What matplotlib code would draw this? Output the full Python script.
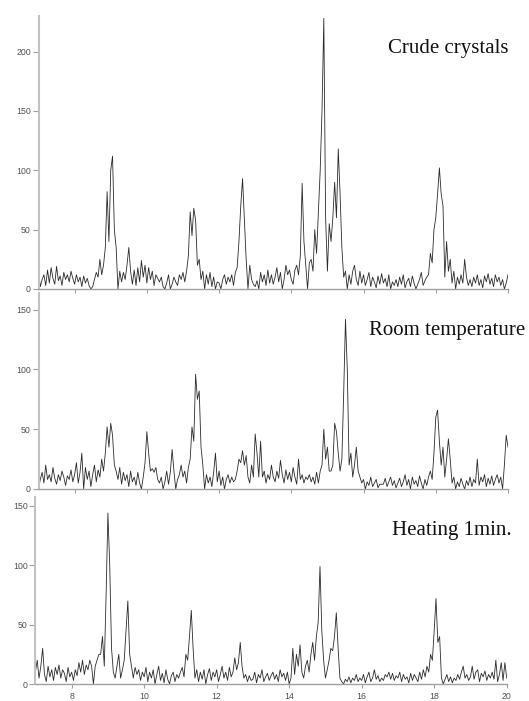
import numpy as np
import matplotlib
matplotlib.use("Agg")
import matplotlib.pyplot as plt

# 2-theta grid, 7.00 ... 20.00 step 0.05 (one row of values per degree)
two_theta = np.round(np.arange(7.0, 20.001, 0.05), 2)

crude = [
    15, 2, 8, 12, 3, 16, 5, 18, 9, 4, 19, 7, 11, 3, 14, 8, 12, 6, 15, 9,
    4, 12, 6, 10, 2, 11, 5, 9, 3, 0, 2, 8, 14, 10, 25, 12, 20, 35, 82, 40,
    100, 112, 50, 35, 0, 15, 6, 14, 8, 20, 35, 15, 4, 16, 3, 18, 6, 24, 10, 20,
    5, 18, 8, 15, 3, 12, 9, 6, 10, 2, 0, 5, 12, 0, 4, 10, 6, 3, 12, 8,
    14, 6, 15, 28, 65, 45, 68, 58, 20, 25, 8, 15, 0, 12, 4, 14, 2, 10, 0, 6,
    5, 0, 8, 12, 4, 10, 6, 12, 3, 14, 18, 40, 70, 93, 60, 25, 0, 20, 8, 4,
    2, 7, 0, 14, 6, 12, 3, 16, 5, 12, 4, 10, 18, 6, 14, 0, 8, 20, 12, 16,
    8, 4, 16, 20, 12, 28, 89, 40, 20, 0, 22, 25, 15, 50, 30, 65, 100, 150, 228, 60,
    15, 55, 40, 60, 90, 60, 118, 80, 35, 10, 15, 0, 12, 4, 15, 20, 8, 3, 15, 5,
    12, 3, 8, 14, 2, 10, 6, 1, 11, 4, 13, 5, 9, 2, 12, 0, 6, 3, 8, 2,
    10, 4, 12, 1, 6, 9, 2, 11, 5, 0, 4, 8, 14, 3, 7, 10, 12, 30, 22, 50,
    60, 80, 102, 80, 70, 10, 40, 15, 25, 5, 15, 0, 10, 4, 12, 5, 25, 10, 3, 8,
    2, 10, 5, 12, 3, 8, 1, 11, 6, 13, 4, 9, 2, 12, 6, 10, 3, 8, 0, 5,
    12,
]

room = [
    0, 8, 14, 5, 20, 8, 12, 6, 18, 9, 4, 12, 7, 15, 10, 3, 11, 8, 16, 6,
    12, 22, 5, 14, 30, 0, 18, 8, 15, 2, 12, 20, 6, 16, 10, 25, 15, 30, 52, 35,
    55, 45, 20, 15, 8, 18, 4, 14, 7, 12, 2, 15, 6, 10, 3, 14, 5, 0, 10, 22,
    48, 30, 15, 17, 14, 18, 8, 5, 10, 0, 6, 15, 4, 14, 33, 15, 0, 8, 12, 20,
    10, 15, 5, 18, 25, 52, 40, 96, 75, 82, 35, 20, 0, 12, 5, 10, 2, 14, 30, 6,
    15, 3, 10, 0, 8, 12, 5, 10, 6, 8, 15, 25, 22, 32, 20, 28, 10, 5, 20, 10,
    46, 30, 10, 40, 10, 15, 5, 12, 8, 20, 10, 6, 15, 9, 24, 12, 5, 16, 8, 14,
    6, 18, 10, 4, 25, 8, 12, 5, 10, 8, 12, 6, 10, 4, 14, 5, 15, 20, 50, 25,
    35, 15, 15, 20, 55, 48, 30, 15, 25, 80, 142, 100, 20, 30, 10, 20, 35, 15, 10, 5,
    8, 0, 6, 3, 10, 2, 5, 8, 1, 4, 4, 4, 9, 2, 6, 10, 3, 7, 1, 5,
    9, 2, 6, 12, 3, 8, 0, 10, 4, 7, 2, 11, 5, 0, 8, 3, 10, 15, 8, 30,
    60, 66, 40, 20, 35, 10, 25, 42, 25, 5, 10, 0, 6, 2, 9, 4, 0, 7, 3, 10,
    2, 8, 5, 25, 3, 10, 6, 12, 2, 9, 4, 11, 3, 8, 12, 5, 10, 0, 20, 45,
    35,
]

heating = [
    10, 20, 5, 15, 30, 8, 2, 15, 6, 12, 3, 14, 8, 16, 5, 12, 9, 2, 14, 6,
    10, 3, 12, 7, 18, 10, 20, 8, 16, 12, 20, 15, 0, 15, 20, 25, 25, 40, 15, 75,
    144, 100, 30, 10, 5, 15, 25, 5, 12, 20, 45, 70, 25, 15, 5, 14, 8, 12, 3, 10,
    6, 14, 2, 10, 5, 12, 0, 8, 15, 3, 9, 1, 12, 4, 0, 7, 10, 2, 8, 5,
    10, 14, 6, 25, 20, 40, 62, 30, 5, 12, 2, 10, 4, 12, 0, 8, 13, 3, 10, 6,
    12, 2, 8, 15, 5, 10, 3, 14, 6, 10, 22, 12, 18, 35, 15, 5, 8, 2, 7, 3,
    4, 10, 1, 8, 5, 12, 2, 6, 9, 3, 7, 10, 4, 8, 2, 12, 6, 9, 3, 10,
    0, 5, 30, 8, 25, 15, 33, 10, 5, 15, 20, 10, 25, 35, 20, 40, 52, 99, 45, 20,
    5, 12, 20, 30, 28, 40, 60, 30, 5, 2, 0, 4, 2, 6, 1, 5, 3, 8, 2, 5,
    3, 8, 1, 6, 10, 2, 5, 12, 4, 7, 2, 5, 3, 8, 6, 10, 4, 9, 3, 7,
    5, 10, 2, 8, 4, 6, 1, 9, 3, 8, 5, 2, 10, 4, 12, 6, 15, 10, 25, 20,
    45, 72, 35, 40, 5, 0, 4, 8, 2, 6, 1, 5, 3, 8, 4, 10, 15, 5, 8, 3,
    6, 15, 4, 10, 12, 2, 9, 6, 11, 3, 8, 5, 10, 4, 20, 2, 8, 18, 3, 18,
    5,
]

labels = ["Crude crystals", "Room temperature", "Heating 1min."]
x_ticks = [8, 10, 12, 14, 16, 18, 20]

W, H = 529, 701
fig = plt.figure(figsize=(W / 100, H / 100), dpi=100)

# panel boxes in pixels: left, right, top, bottom, y max, y ticks
panels = [
    (38.5, 508, 16, 289, 230, [0, 50, 100, 150, 200]),
    (38.5, 508, 293, 489, 164, [0, 50, 100, 150]),
    (35.4, 506.7, 497, 684, 157.5, [0, 50, 100, 150]),
]
series = [crude, room, heating]
# label anchor (right edge x, centre y) in pixels
label_pos = [(509, 48), (525, 330), (512, 530)]

for i, (l, r, t, b, ymax, yt) in enumerate(panels):
    ax = fig.add_axes([l / W, 1 - b / H, (r - l) / W, (b - t) / H])
    ax.plot(two_theta, series[i], color="#2b2b2b", lw=0.6)
    ax.set_xlim(7, 20)
    ax.set_ylim(0, ymax)
    ax.set_yticks(yt)
    ax.set_xticks(x_ticks)
    ax.spines["top"].set_visible(False)
    ax.spines["right"].set_visible(False)
    ax.spines["left"].set_color("#c2c2c2")
    ax.spines["left"].set_linewidth(1.5)
    ax.spines["bottom"].set_color("#a0a0a0")
    ax.spines["bottom"].set_linewidth(1.0)
    ax.tick_params(axis="y", colors="#a0a0a0", labelcolor="#505050", labelsize=6.3,
                   length=4, width=0.8, pad=1.5)
    ax.tick_params(axis="x", colors="#a0a0a0", labelcolor="#505050", labelsize=6.3,
                   length=3, width=0.8, pad=3)
    for lab in ax.get_xticklabels() + ax.get_yticklabels():
        lab.set_family("Liberation Sans")
    if i < 2:
        ax.set_xticklabels([])
    ax.patch.set_alpha(0)

    lx, ly = label_pos[i]
    fig.text(lx / W, 1 - ly / H, labels[i], family="Liberation Serif",
             fontsize=15, ha="right", va="center", color="#111111")

plt.savefig("out.png", dpi=100)
